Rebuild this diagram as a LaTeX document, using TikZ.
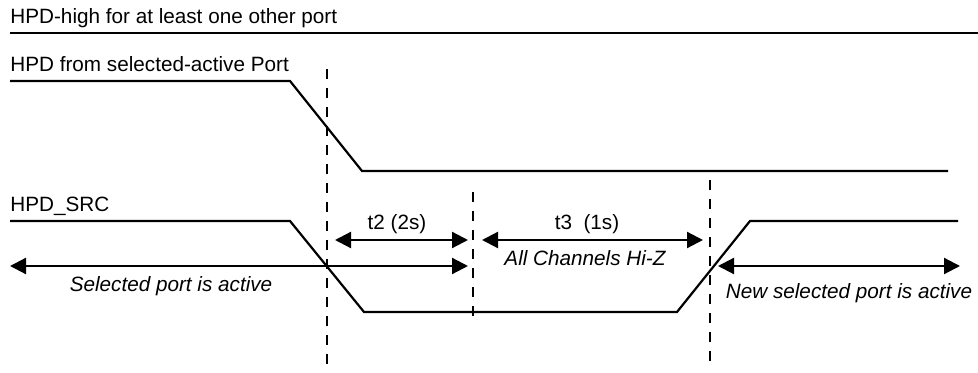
\documentclass[tikz,border=0pt]{standalone}
\usepackage{fontspec}
\setmainfont{Liberation Sans}
\usetikzlibrary{arrows.meta}

\begin{document}
\begin{tikzpicture}[x=0.5pt, y=-0.5pt,
            wave/.style={line width=1.1pt, line join=miter},
            marker/.style={line width=1.1pt, dash pattern=on 5pt off 4.5pt},
            span/.style={line width=1.1pt, {Triangle[length=8pt,width=8pt]}-{Triangle[length=8pt,width=8pt]}},
            label text/.style={inner sep=0, font=\fontsize{10.35}{12}\selectfont},
            note text/.style={label text, font=\fontsize{10.35}{12}\selectfont\itshape},
            ]
            \useasboundingbox (0,0) rectangle (978,373);

            % signal names
            \node[label text, anchor=base west] (other) at (10,24) {HPD-high for at least one other port};
            \node[label text, anchor=base west] (sel) at (10,72) {HPD from selected-active Port};
            \node[label text, anchor=base west] (src) at (10,212) {HPD\_SRC};

            % waveforms
            \coordinate (o1) at (10,33);
            \coordinate (o2) at (978,33);
            \coordinate (s1) at (10,81);
            \coordinate (s2) at (290,81);
            \coordinate (s3) at (362,171);
            \coordinate (s4) at (948,171);
            \coordinate (h1) at (10,221);
            \coordinate (h2) at (290,221);
            \coordinate (h3) at (364,312);
            \coordinate (h4) at (677,312);
            \coordinate (h5) at (750,221);
            \coordinate (h6) at (958,221);

            \draw[wave] (o1) -- (o2);
            \draw[wave] (s1) -- (s2) -- (s3) -- (s4);
            \draw[wave] (h1) -- (h2) -- (h3) -- (h4) -- (h5) -- (h6);

            % timing markers
            \coordinate (m1a) at (327,69);
            \coordinate (m1b) at (327,373);
            \coordinate (m2a) at (473,192);
            \coordinate (m2b) at (473,317);
            \coordinate (m3a) at (710,180);
            \coordinate (m3b) at (710,369);

            \draw[marker] (m1a) -- (m1b);
            \draw[marker] (m2a) -- (m2b);
            \draw[marker] (m3a) -- (m3b);

            % intervals
            \coordinate (t2l) at (335,240);
            \coordinate (t2r) at (468,240);
            \coordinate (t3l) at (482,240);
            \coordinate (t3r) at (703,240);
            \coordinate (al) at (10,266);
            \coordinate (ar) at (468,266);
            \coordinate (nl) at (718,266);
            \coordinate (nr) at (960,266);

            \draw[span] (t2l) -- (t2r);
            \draw[span] (t3l) -- (t3r);
            \draw[span] (al) -- (ar);
            \draw[span] (nl) -- (nr);

            \node[label text, anchor=base] (t2) at (397,230) {t2 (2s)};
            \node[label text, anchor=base] (t3) at (587,230) {t3\ \ (1s)};
            \node[note text, anchor=base] (hiz) at (585,266) {All Channels Hi-Z};
            \node[note text, anchor=base] (act) at (171,292) {Selected port is active};
            \node[note text, anchor=base] (new) at (849,299) {New selected port is active};
\end{tikzpicture}
\end{document}
